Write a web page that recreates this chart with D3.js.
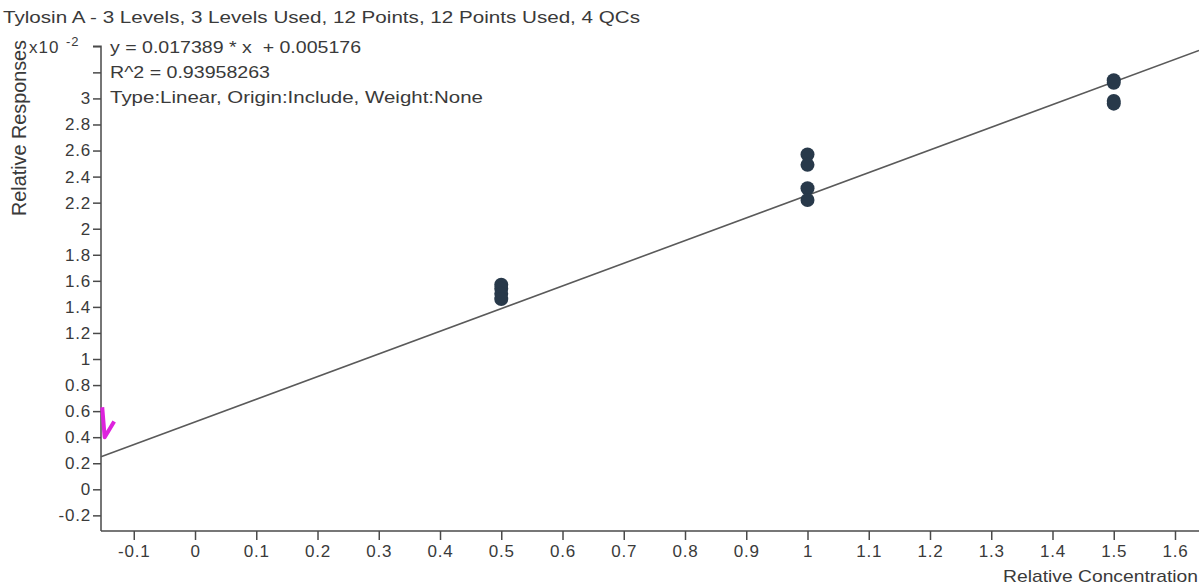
<!DOCTYPE html>
<html>
<head>
<meta charset="utf-8">
<script src="https://cdn.jsdelivr.net/npm/d3@7"></script>
<style>
  html, body { margin: 0; padding: 0; background: #ffffff; }
  svg { display: block; font-family: "Liberation Sans", Arial, sans-serif; }
  text { white-space: pre; }
</style>
</head>
<body>
<svg id="chart" width="1199" height="586"></svg>
<script>
// ---- data (responses in units of x10^-2) ----
const titleText = "Tylosin A - 3 Levels, 3 Levels Used, 12 Points, 12 Points Used, 4 QCs";
const equationLines = [
  "y = 0.017389 * x  + 0.005176",
  "R^2 = 0.93958263",
  "Type:Linear, Origin:Include, Weight:None"
];
const slope = 1.7389;      // x10^-2
const intercept = 0.5176;  // x10^-2
const concentrations = [0.5, 0.5, 0.5, 0.5, 1, 1, 1, 1, 1.5, 1.5, 1.5, 1.5];
const responses = [1.57, 1.54, 1.50, 1.46, 2.57, 2.49, 2.31, 2.22, 3.14, 3.12, 2.98, 2.96];
const xTicks = [-0.1, 0, 0.1, 0.2, 0.3, 0.4, 0.5, 0.6, 0.7, 0.8, 0.9, 1, 1.1, 1.2, 1.3, 1.4, 1.5, 1.6];
const xTickLabels = ["-0.1", "0", "0.1", "0.2", "0.3", "0.4", "0.5", "0.6", "0.7", "0.8", "0.9", "1", "1.1", "1.2", "1.3", "1.4", "1.5", "1.6"];
const yTicks = [-0.2, 0, 0.2, 0.4, 0.6, 0.8, 1, 1.2, 1.4, 1.6, 1.8, 2, 2.2, 2.4, 2.6, 2.8, 3, 3.2, 3.4];
const yTickLabels = ["-0.2", "0", "0.2", "0.4", "0.6", "0.8", "1", "1.2", "1.4", "1.6", "1.8", "2", "2.2", "2.4", "2.6", "2.8", "3", "", ""];
const qcMarkX = [-0.1515, -0.1475, -0.132];
const qcMarkY = [0.63, 0.40, 0.52];

// ---- layout ----
const svg = d3.select("#chart");
const plotLeft = 101, plotRight = 1199, plotTop = 45, plotBottom = 531;
const textColor = "#3a3a3a";
const axisColor = "#4a4a4a";
const fs = 17;

const x = d3.scaleLinear().domain([-0.1535, 1.6392]).range([plotLeft, plotRight]);
const y = d3.scaleLinear().domain([-0.32, 3.41]).range([plotBottom, plotTop]);

// title
svg.append("text").attr("x", 3).attr("y", 23)
  .attr("font-size", fs).attr("fill", textColor)
  .attr("textLength", 637).attr("lengthAdjust", "spacingAndGlyphs")
  .text(titleText);

// axes
const xAxis = d3.axisBottom(x).tickValues(xTicks).tickSize(9).tickPadding(5)
  .tickFormat((d, i) => xTickLabels[i]);
const gx = svg.append("g").attr("transform", `translate(0,${plotBottom})`).call(xAxis);
gx.select(".domain").attr("stroke", axisColor).attr("stroke-width", 1.5)
  .attr("d", `M${plotLeft},0H${plotRight}`);
gx.selectAll(".tick line").attr("stroke", axisColor).attr("stroke-width", 1.5);
gx.selectAll(".tick text").attr("fill", textColor).attr("font-size", fs)
  .attr("font-family", "Liberation Sans, Arial, sans-serif")
  .attr("letter-spacing", 0.8);

const yAxis = d3.axisLeft(y).tickValues(yTicks).tickSize(8).tickPadding(2)
  .tickFormat((d, i) => yTickLabels[i]);
const gy = svg.append("g").attr("transform", `translate(${plotLeft},0)`).call(yAxis);
gy.select(".domain").attr("stroke", axisColor).attr("stroke-width", 1.5)
  .attr("d", `M-8,${y(3.4)}H0V${plotBottom}`);
gy.selectAll(".tick line").attr("stroke", axisColor).attr("stroke-width", 1.5);
gy.selectAll(".tick text").attr("fill", textColor).attr("font-size", fs)
  .attr("font-family", "Liberation Sans, Arial, sans-serif")
  .attr("letter-spacing", 0.8);

// axis titles
svg.append("text")
  .attr("transform", `translate(26,128) scale(1.2,1) rotate(-90)`)
  .attr("text-anchor", "middle").attr("font-size", fs).attr("fill", textColor)
  .attr("textLength", 176).attr("lengthAdjust", "spacingAndGlyphs")
  .text("Relative Responses");
svg.append("text").attr("x", 1003).attr("y", 582)
  .attr("font-size", fs).attr("fill", textColor)
  .attr("textLength", 195).attr("lengthAdjust", "spacingAndGlyphs")
  .text("Relative Concentration");

// exponent label
const ex = svg.append("text").attr("x", 29).attr("y", 53).attr("font-size", fs).attr("fill", textColor)
  .attr("letter-spacing", 1);
ex.append("tspan").text("x10");
ex.append("tspan").attr("x", 66).attr("dy", -7).attr("font-size", 13).text("-2");

// equation text
const eqLengths = [251, 160, 373];
svg.selectAll("text.eq").data(equationLines).join("text")
  .attr("class", "eq").attr("x", 110).attr("y", (d, i) => 53 + i * 25)
  .attr("font-size", fs).attr("fill", textColor)
  .attr("textLength", (d, i) => eqLengths[i]).attr("lengthAdjust", "spacingAndGlyphs")
  .text(d => d);

// regression line
const xd = x.domain();
svg.append("line")
  .attr("x1", x(xd[0])).attr("y1", y(slope * xd[0] + intercept))
  .attr("x2", x(xd[1])).attr("y2", y(slope * xd[1] + intercept))
  .attr("stroke", "#5a5a5a").attr("stroke-width", 1.6);

// points
svg.selectAll("circle.pt").data(concentrations).join("circle")
  .attr("class", "pt")
  .attr("cx", d => x(d)).attr("cy", (d, i) => y(responses[i]))
  .attr("r", 7).attr("fill", "#28394a");

// QC marker (magenta)
const qc = qcMarkX.map((v, i) => [x(v), y(qcMarkY[i])]);
svg.append("path").attr("d", d3.line()(qc))
  .attr("fill", "none").attr("stroke", "#dd22dd").attr("stroke-width", 4)
  .attr("stroke-linejoin", "round");
</script>
</body>
</html>
